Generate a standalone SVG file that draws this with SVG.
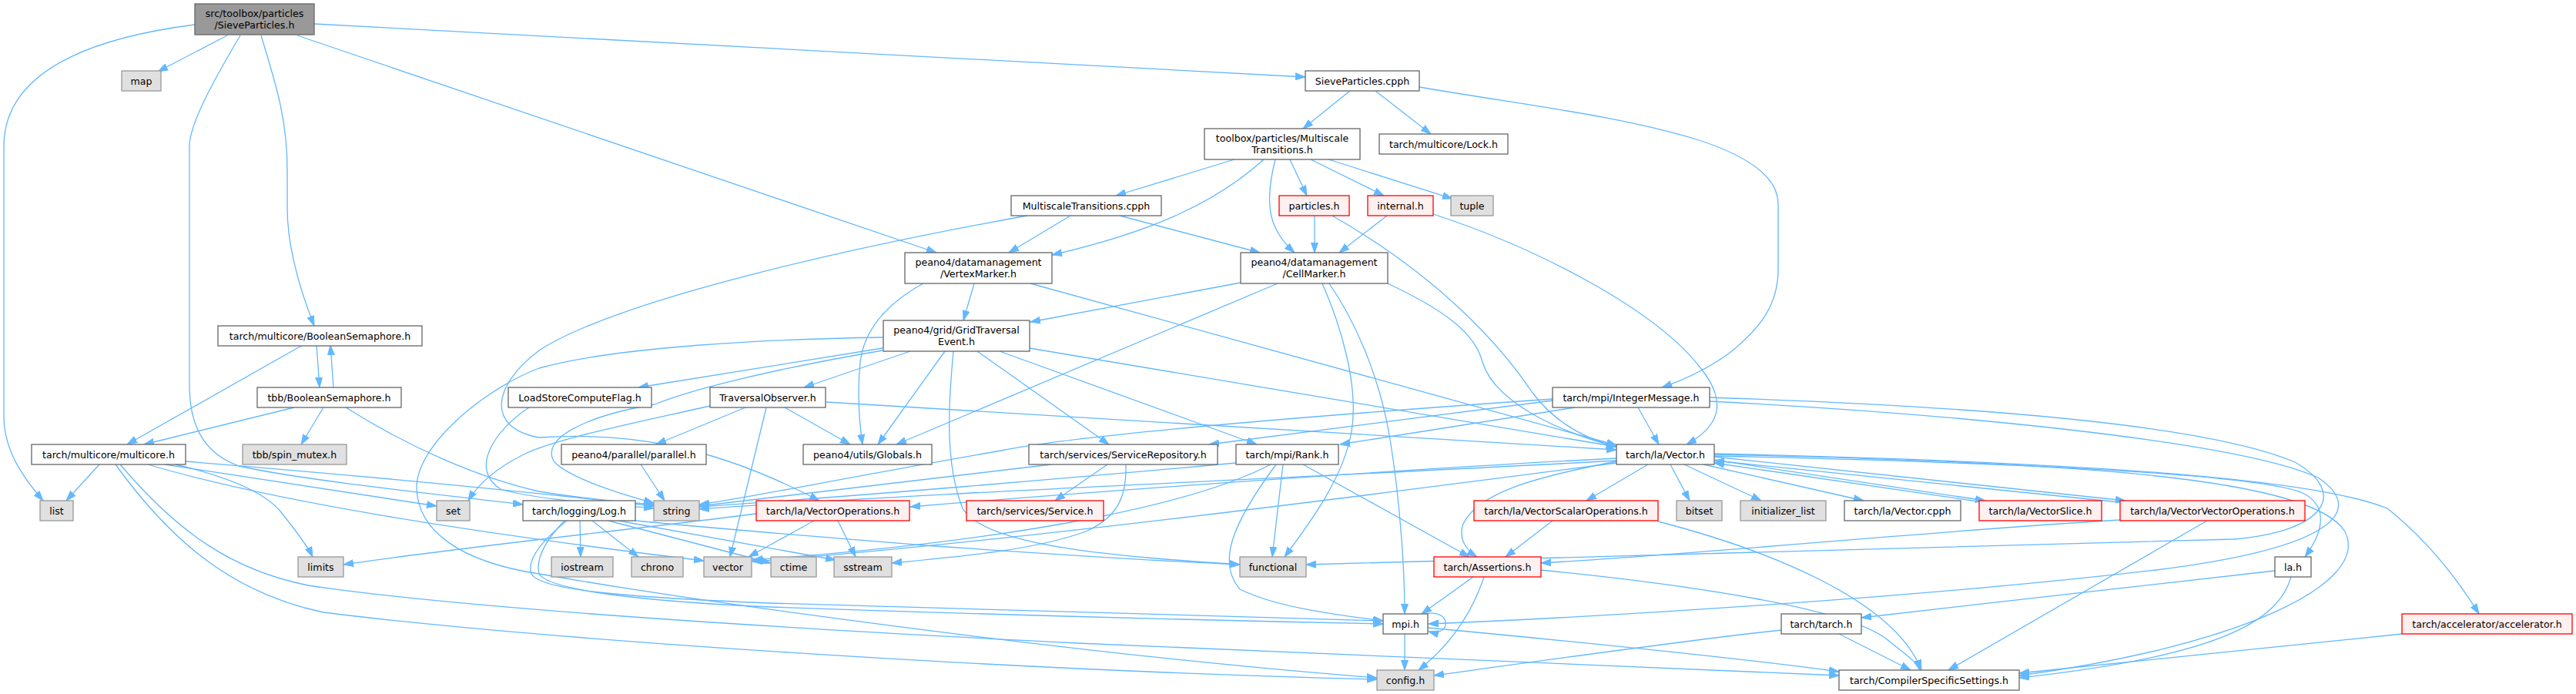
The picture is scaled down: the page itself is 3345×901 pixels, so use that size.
<svg xmlns="http://www.w3.org/2000/svg" width="3345" height="901" viewBox="0 0 3345 901">
<style>
.n rect{fill:#ffffff;stroke:#666666;stroke-width:1.3}
.r rect{fill:#999999;stroke:#666666;stroke-width:1.3}
.s rect{fill:#e0e0e0;stroke:#999999;stroke-width:1.3}
.t rect{fill:#fff0f0;stroke:#ff0000;stroke-width:1.3}
text{font-family:"DejaVu Sans","Liberation Sans",sans-serif;font-size:12.6px;text-anchor:middle;fill:#000000}
#edges path{fill:none;stroke:#63b8ff;stroke-width:1.3;marker-end:url(#a)}
</style>
<defs>
<marker id="a" markerUnits="userSpaceOnUse" markerWidth="14" markerHeight="10" refX="13" refY="5" orient="auto">
<path d="M0,0.5 L13,5 L0,9.5 Z" fill="#63b8ff" stroke="#63b8ff" stroke-width="1"/>
</marker>
</defs>
<rect x="0" y="0" width="3345" height="901" fill="#ffffff"/>
<g id="edges">
<path d="M253,32 C150,45 5,80 5,190 L5,540 C5,585 30,620 56,650"/>
<path d="M295,46 L205,93"/>
<path d="M312,46 C280,100 246,160 246,190 L246,500 C246,560 270,590 310,605 C400,625 600,645 679,655"/>
<path d="M339,46 C355,100 373,150 373,220 L373,270 C373,330 395,390 408,423"/>
<path d="M386,46 L1216,328"/>
<path d="M408,31 L1695,100"/>
<path d="M1753,118 L1692,167"/>
<path d="M1786,118 L1858,174"/>
<path d="M1843,113 C1990,138 2100,150 2200,180 C2280,205 2309,235 2309,265 L2309,350 C2309,400 2280,430 2250,455 C2220,478 2190,492 2158,503"/>
<path d="M1603,207 L1449,254"/>
<path d="M1641,207 C1580,262 1500,300 1366,331"/>
<path d="M1656,207 C1640,270 1650,300 1681,328"/>
<path d="M1675,207 L1697,254"/>
<path d="M1702,207 L1797,254"/>
<path d="M1725,207 L1886,258"/>
<path d="M1390,280 L1310,328"/>
<path d="M1454,280 L1636,328"/>
<path d="M1334,280 C1100,322 800,390 700,455 C640,500 630,555 700,568 C820,560 930,580 1064,650"/>
<path d="M1707,280 L1707,328"/>
<path d="M1730,280 C1870,360 1950,450 1990,510 C2020,550 2060,570 2099,580"/>
<path d="M1801,280 L1739,328"/>
<path d="M1861,278 C1990,320 2150,400 2210,480 C2245,525 2230,555 2190,577"/>
<path d="M1265,368 L1251,416"/>
<path d="M1199,368 C1150,395 1122,430 1117,470 C1113,510 1116,550 1120,577"/>
<path d="M1338,368 L2099,578"/>
<path d="M1611,367 L1338,418"/>
<path d="M1659,368 L1164,577"/>
<path d="M1717,368 C1740,420 1765,500 1755,560 C1745,620 1700,680 1668,723"/>
<path d="M1726,368 C1755,410 1790,480 1805,570 C1818,650 1824,740 1824,797"/>
<path d="M1802,368 C1870,400 1915,430 1925,470 C1940,520 2020,560 2099,580"/>
<path d="M1182,456 L1044,503"/>
<path d="M1227,456 L1140,577"/>
<path d="M1238,456 C1232,520 1226,600 1250,660 C1280,710 1450,722 1610,733"/>
<path d="M1269,456 L1440,577"/>
<path d="M1298,456 L1632,577"/>
<path d="M1337,452 L2099,580"/>
<path d="M1146,452 L829,503"/>
<path d="M1146,455 C1000,480 900,505 850,525 C760,540 700,570 720,600 C740,620 800,640 849,653"/>
<path d="M1147,438 C1000,440 800,450 700,478 C640,500 545,570 541,630 C540,690 600,730 700,745 C900,780 1400,850 1788,880"/>
<path d="M411,448 L415,503"/>
<path d="M433,503 L429,448"/>
<path d="M393,448 L165,577"/>
<path d="M382,529 L187,577"/>
<path d="M420,529 L391,577"/>
<path d="M449,529 C530,580 620,620 700,638 C760,648 810,652 849,655"/>
<path d="M129,603 L86,650"/>
<path d="M214,603 L567,657"/>
<path d="M228,603 C300,620 345,640 365,665 C385,690 400,710 406,723"/>
<path d="M241,599 C500,620 700,640 849,657"/>
<path d="M192,603 C350,650 600,690 914,728"/>
<path d="M150,603 C220,700 300,770 420,795 C700,830 1300,870 1788,882"/>
<path d="M156,603 C230,690 300,740 400,760 C600,790 1000,815 1400,835 C1900,858 2250,872 2388,877"/>
<path d="M753,676 L754,723"/>
<path d="M769,676 L829,723"/>
<path d="M790,676 L1001,731"/>
<path d="M803,676 L1085,727"/>
<path d="M825,676 C950,688 1100,700 1200,708 C1400,722 1500,728 1610,733"/>
<path d="M736,676 C700,705 684,728 690,745 C700,765 800,775 1000,783 C1400,797 1700,804 1796,806"/>
<path d="M733,676 C705,705 696,728 700,745 C712,765 820,780 1000,788 C1400,802 1700,808 1796,810"/>
<path d="M687,529 C640,560 610,610 650,635 C700,650 800,655 849,660"/>
<path d="M968,529 L852,577"/>
<path d="M995,529 L948,723"/>
<path d="M1019,529 L1104,577"/>
<path d="M922,527 C820,550 720,570 680,590 C640,610 620,630 608,650"/>
<path d="M1073,522 L2099,584"/>
<path d="M832,603 L863,650"/>
<path d="M1438,603 L1370,650"/>
<path d="M1365,603 L908,657"/>
<path d="M1462,603 C1463,640 1455,670 1410,690 C1340,715 1250,722 1158,731"/>
<path d="M1666,603 L1652,723"/>
<path d="M1657,603 C1600,680 1580,730 1610,765 C1660,790 1750,800 1796,806"/>
<path d="M1692,603 L1908,723"/>
<path d="M1650,603 C1560,650 1350,700 977,727"/>
<path d="M1605,601 C1400,620 1100,645 908,658"/>
<path d="M2016,520 L1570,577"/>
<path d="M2045,529 L1740,577"/>
<path d="M2016,518 C1700,540 1400,565 1300,585 C1100,620 950,650 908,655"/>
<path d="M2127,529 L2154,577"/>
<path d="M2220,516 C2500,525 2850,545 2980,600 C3050,640 3020,690 2900,700 C2600,712 2200,720 1696,733"/>
<path d="M2220,521 C2500,535 2900,570 3010,620 C3070,660 3040,710 2800,740 C2500,775 2100,800 1855,810"/>
<path d="M2099,595 C1800,610 1400,640 1182,658"/>
<path d="M2099,598 C1700,620 1200,640 908,661"/>
<path d="M2099,601 C1800,640 1300,705 977,729"/>
<path d="M2099,599 C1990,620 1920,640 1900,680 C1893,700 1905,715 1918,723"/>
<path d="M2140,603 L2060,650"/>
<path d="M2169,603 L2194,650"/>
<path d="M2187,603 L2287,650"/>
<path d="M2212,603 L2420,650"/>
<path d="M2226,597 L2578,650"/>
<path d="M2568,651 L2226,601"/>
<path d="M2226,593 L2760,650"/>
<path d="M2752,652 L2226,598"/>
<path d="M2226,592 C2600,600 2930,615 2990,640 C3030,660 3010,700 2993,723"/>
<path d="M2226,589 C2700,600 3000,620 3100,660 C3150,700 3190,750 3219,797"/>
<path d="M2226,590 C2700,600 3000,620 3045,690 C3080,760 2900,840 2622,877"/>
<path d="M2016,676 L1955,723"/>
<path d="M2153,677 C2300,715 2460,780 2495,870"/>
<path d="M2753,675 C2500,690 2200,720 2001,731"/>
<path d="M2866,676 L2530,870"/>
<path d="M1057,676 L972,723"/>
<path d="M1088,676 L1111,723"/>
<path d="M982,667 C800,690 600,710 446,733"/>
<path d="M1913,749 L1846,797"/>
<path d="M1927,749 C1910,800 1880,840 1842,870"/>
<path d="M2001,740 C2200,760 2400,790 2450,830 C2475,850 2490,860 2493,870"/>
<path d="M1852,797 C1885,790 1885,828 1855,820"/>
<path d="M1824,823 L1824,870"/>
<path d="M1854,815 C2100,838 2300,860 2388,872"/>
<path d="M2313,818 C2200,830 2000,858 1862,877"/>
<path d="M2388,823 L2481,870"/>
<path d="M2954,741 C2800,760 2600,780 2417,802"/>
<path d="M2975,749 C2960,800 2900,850 2622,880"/>
<path d="M3119,823 L2622,874"/>
</g>
<g id="root" class="r"><rect x="253" y="5" width="155" height="40"/><text x="330.5" y="21.5">src/toolbox/particles</text><text x="330.5" y="36.5">/SieveParticles.h</text></g>
<g id="map" class="s"><rect x="158" y="92" width="51" height="26"/><text x="183.5" y="109.5">map</text></g>
<g id="sievecpph" class="n"><rect x="1695" y="92" width="148" height="26"/><text x="1769" y="109.5">SieveParticles.cpph</text></g>
<g id="mth" class="n"><rect x="1564" y="167" width="202" height="40"/><text x="1665" y="183.5">toolbox/particles/Multiscale</text><text x="1665" y="198.5">Transitions.h</text></g>
<g id="lock" class="n"><rect x="1791" y="174" width="167" height="26"/><text x="1874.5" y="191.5">tarch/multicore/Lock.h</text></g>
<g id="mtcpph" class="n"><rect x="1313" y="254" width="195" height="26"/><text x="1410.5" y="271.5">MultiscaleTransitions.cpph</text></g>
<g id="particles" class="t"><rect x="1661" y="254" width="91" height="26"/><text x="1706.5" y="271.5">particles.h</text></g>
<g id="internal" class="t"><rect x="1776" y="254" width="85" height="26"/><text x="1818.5" y="271.5">internal.h</text></g>
<g id="tuple" class="s"><rect x="1884" y="254" width="55" height="26"/><text x="1911.5" y="271.5">tuple</text></g>
<g id="vertexmarker" class="n"><rect x="1175" y="328" width="191" height="40"/><text x="1270.5" y="344.5">peano4/datamanagement</text><text x="1270.5" y="359.5">/VertexMarker.h</text></g>
<g id="cellmarker" class="n"><rect x="1611" y="328" width="191" height="40"/><text x="1706.5" y="344.5">peano4/datamanagement</text><text x="1706.5" y="359.5">/CellMarker.h</text></g>
<g id="boolsem" class="n"><rect x="283" y="423" width="265" height="26"/><text x="415.5" y="440.5">tarch/multicore/BooleanSemaphore.h</text></g>
<g id="gte" class="n"><rect x="1147" y="416" width="190" height="40"/><text x="1242" y="432.5">peano4/grid/GridTraversal</text><text x="1242" y="447.5">Event.h</text></g>
<g id="tbbbs" class="n"><rect x="334" y="503" width="187" height="26"/><text x="427.5" y="520.5">tbb/BooleanSemaphore.h</text></g>
<g id="lscf" class="n"><rect x="660" y="503" width="186" height="26"/><text x="753" y="520.5">LoadStoreComputeFlag.h</text></g>
<g id="travobs" class="n"><rect x="922" y="503" width="150" height="26"/><text x="997" y="520.5">TraversalObserver.h</text></g>
<g id="intmsg" class="n"><rect x="2016" y="503" width="204" height="26"/><text x="2118" y="520.5">tarch/mpi/IntegerMessage.h</text></g>
<g id="multicore" class="n"><rect x="41" y="577" width="200" height="26"/><text x="141" y="594.5">tarch/multicore/multicore.h</text></g>
<g id="spinmutex" class="s"><rect x="315" y="577" width="135" height="26"/><text x="382.5" y="594.5">tbb/spin_mutex.h</text></g>
<g id="parallel" class="n"><rect x="729" y="577" width="188" height="26"/><text x="823" y="594.5">peano4/parallel/parallel.h</text></g>
<g id="globals" class="n"><rect x="1043" y="577" width="167" height="26"/><text x="1126.5" y="594.5">peano4/utils/Globals.h</text></g>
<g id="servrepo" class="n"><rect x="1336" y="577" width="245" height="26"/><text x="1458.5" y="594.5">tarch/services/ServiceRepository.h</text></g>
<g id="rank" class="n"><rect x="1605" y="577" width="133" height="26"/><text x="1671.5" y="594.5">tarch/mpi/Rank.h</text></g>
<g id="vector_h" class="n"><rect x="2099" y="577" width="127" height="26"/><text x="2162.5" y="594.5">tarch/la/Vector.h</text></g>
<g id="list" class="s"><rect x="52" y="650" width="43" height="26"/><text x="73.5" y="667.5">list</text></g>
<g id="set" class="s"><rect x="567" y="650" width="43" height="26"/><text x="588.5" y="667.5">set</text></g>
<g id="log" class="n"><rect x="679" y="650" width="146" height="26"/><text x="752" y="667.5">tarch/logging/Log.h</text></g>
<g id="string" class="s"><rect x="849" y="650" width="59" height="26"/><text x="878.5" y="667.5">string</text></g>
<g id="vecops" class="t"><rect x="982" y="650" width="199" height="26"/><text x="1081.5" y="667.5">tarch/la/VectorOperations.h</text></g>
<g id="service" class="t"><rect x="1255" y="650" width="178" height="26"/><text x="1344" y="667.5">tarch/services/Service.h</text></g>
<g id="vso" class="t"><rect x="1914" y="650" width="239" height="26"/><text x="2033.5" y="667.5">tarch/la/VectorScalarOperations.h</text></g>
<g id="bitset" class="s"><rect x="2177" y="650" width="59" height="26"/><text x="2206.5" y="667.5">bitset</text></g>
<g id="initlist" class="s"><rect x="2260" y="650" width="111" height="26"/><text x="2315.5" y="667.5">initializer_list</text></g>
<g id="veccpph" class="n"><rect x="2395" y="650" width="151" height="26"/><text x="2470.5" y="667.5">tarch/la/Vector.cpph</text></g>
<g id="vecslice" class="t"><rect x="2570" y="650" width="159" height="26"/><text x="2649.5" y="667.5">tarch/la/VectorSlice.h</text></g>
<g id="vvo" class="t"><rect x="2753" y="650" width="240" height="26"/><text x="2873" y="667.5">tarch/la/VectorVectorOperations.h</text></g>
<g id="limits" class="s"><rect x="387" y="723" width="59" height="26"/><text x="416.5" y="740.5">limits</text></g>
<g id="iostream" class="s"><rect x="716" y="723" width="80" height="26"/><text x="756" y="740.5">iostream</text></g>
<g id="chrono" class="s"><rect x="820" y="723" width="67" height="26"/><text x="853.5" y="740.5">chrono</text></g>
<g id="vector" class="s"><rect x="914" y="723" width="62" height="26"/><text x="945" y="740.5">vector</text></g>
<g id="ctime" class="s"><rect x="1001" y="723" width="59" height="26"/><text x="1030.5" y="740.5">ctime</text></g>
<g id="sstream" class="s"><rect x="1083" y="723" width="75" height="26"/><text x="1120.5" y="740.5">sstream</text></g>
<g id="functional" class="s"><rect x="1610" y="723" width="86" height="26"/><text x="1653" y="740.5">functional</text></g>
<g id="assertions" class="t"><rect x="1862" y="723" width="139" height="26"/><text x="1931.5" y="740.5">tarch/Assertions.h</text></g>
<g id="lah" class="n"><rect x="2954" y="723" width="47" height="26"/><text x="2977.5" y="740.5">la.h</text></g>
<g id="mpih" class="n"><rect x="1796" y="797" width="58" height="26"/><text x="1825" y="814.5">mpi.h</text></g>
<g id="tarchh" class="n"><rect x="2313" y="797" width="104" height="26"/><text x="2365" y="814.5">tarch/tarch.h</text></g>
<g id="accel" class="t"><rect x="3119" y="797" width="221" height="26"/><text x="3229.5" y="814.5">tarch/accelerator/accelerator.h</text></g>
<g id="config" class="s"><rect x="1788" y="870" width="74" height="26"/><text x="1825" y="887.5">config.h</text></g>
<g id="css" class="n"><rect x="2388" y="870" width="234" height="26"/><text x="2505" y="887.5">tarch/CompilerSpecificSettings.h</text></g>
</svg>
